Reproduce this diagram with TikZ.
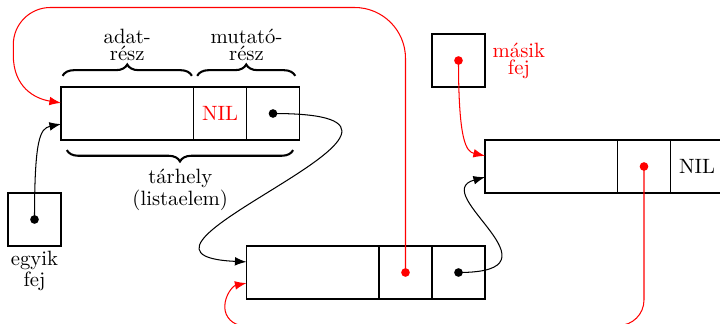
\documentclass[tikz,border=0pt]{standalone}
\usepackage{fontspec}
\usetikzlibrary{arrows.meta,decorations.pathreplacing}
\begin{document}
\begin{tikzpicture}[x=0.9cm,y=0.9cm,
  box/.style={draw, line width=0.5pt, inner sep=0pt, outer sep=0pt, minimum height=0.9cm},
  datacell/.style={box, minimum width=2.25cm},
  cell/.style={box, minimum width=0.9cm},
  dot/.style={circle, fill, inner sep=0pt, minimum size=4.2pt},
  link/.style={line width=0.5pt, -{Latex[length=5.6pt,width=4.2pt]}},
  brace/.style={decorate, decoration={brace, amplitude=5.5pt}, line width=1pt},
  lab/.style={align=center, inner sep=0pt, font=\fontsize{10}{8.2}\selectfont},
]
\useasboundingbox (-0.151,-5.453) rectangle (13.434,0.6415);
\clip (-0.151,-5.453) rectangle (13.434,0.6415);

% cells
\node[cell] (h2) at (8.5,-0.5) {};
\node[datacell] (d1) at (2.25,-1.5) {};
\node[cell, text=red] (n1) at (4,-1.5) {NIL};
\node[cell] (p1) at (5,-1.5) {};
\node[datacell] (d3) at (10.25,-2.5) {};
\node[cell] (m3) at (12,-2.5) {};
\node[cell] (n3) at (13,-2.5) {NIL};
\node[cell] (h1) at (0.5,-3.5) {};
\node[datacell] (d2) at (5.75,-4.5) {};
\node[cell] (m2) at (7.5,-4.5) {};
\node[cell] (p2) at (8.5,-4.5) {};

% dots
\node[dot] (dp1) at (p1.center) {};
\node[dot, red] (dm2) at (m2.center) {};
\node[dot] (dp2) at (p2.center) {};
\node[dot, red] (dm3) at (m3.center) {};
\node[dot] (dh1) at (h1.center) {};
\node[dot, red] (dh2) at (h2.center) {};

% connectors
\draw[link, red] (dm2.center) -- (7.5,-0.46) arc[start angle=0,end angle=90,radius=0.96]
  -- (0.8,0.5) arc[start angle=90,end angle=180,radius=0.7] -- (0.1,-0.4)
  .. controls (0.1,-1.0) and (0.5,-1.22) .. ([yshift=0.18cm]d1.west);
\draw[link, red] (dm3.center) -- (12,-5.02) arc[start angle=0,end angle=-90,radius=0.48]
  -- (4.44,-5.5) arc[start angle=270,end angle=180,radius=0.35]
  .. controls (4.09,-4.92) and (4.25,-4.75) .. ([yshift=-0.18cm]d2.west);
\draw[link] (dp1.center) .. controls (9.3,-1.5) and (1.3,-4.15) .. ([yshift=0.18cm]d2.west);
\draw[link] (dp2.center) .. controls (10.6,-4.5) and (7.9,-3.0) .. ([yshift=-0.18cm]d3.west);
\draw[link] (dh1.center) .. controls (0.5,-2.0) and (0.6,-1.78) .. ([yshift=-0.18cm]d1.west);
\draw[link, red] (dh2.center) .. controls (8.5,-2.05) and (8.65,-2.22) .. ([yshift=0.18cm]d3.west);

% braces
\draw[brace] (1.03,-0.79) -- (3.47,-0.79);
\draw[brace] (3.57,-0.79) -- (5.42,-0.79);
\draw[brace] (5.38,-2.19) -- (1.11,-2.19);

% labels
\node[lab] (ladat) at (2.25,-0.21) {adat-\\rész};
\node[lab] (lmut) at (4.5,-0.21) {mutató-\\rész};
\node[lab] (ltar) at (3.25,-2.94) {tárhely\\(listaelem)};
\node[lab] (legy) at (0.5,-4.47) {egyik\\fej};
\node[lab, text=red] (lmas) at (9.64,-0.5) {másik\\fej};
\end{tikzpicture}
\end{document}
